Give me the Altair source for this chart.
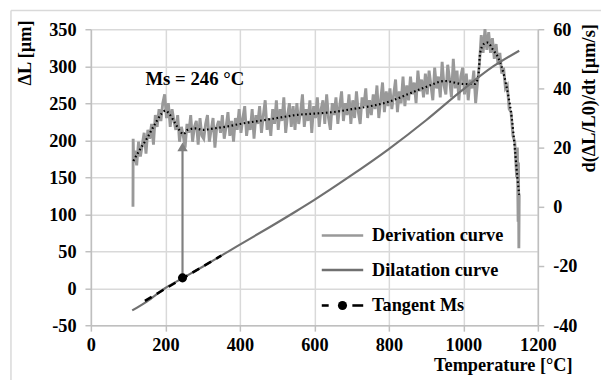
import altair as alt
import pandas as pd

FONT = "Liberation Serif"

# ---------------- data ----------------
# Derivation curve (right axis, µm/s), noisy raw signal
deriv_start_t = [113, 113.5, 115]
deriv_start_v = [0, 23, 15]
seg_a_start = 118   # step 5
seg_a = [19, 14, 22, 17, 21, 25, 18, 26, 23, 28, 21, 31, 27, 33, 29, 35, 38]
seg_b_start = 203   # step 5
seg_b = [30, 35, 27, 33, 29, 26, 31, 22, 27, 24,
         20, 28, 25, 31, 22, 27, 29, 21, 30, 24,
         23, 28, 31, 22, 26, 30, 20, 27, 29, 25,
         31, 23, 27, 32, 24, 29, 22, 30, 26, 33,
         25, 30, 34, 24, 29, 26, 33, 23, 31, 28,
         34, 25, 31, 36, 26, 30, 24, 33, 28, 36,
         26, 33, 29, 37, 25, 31, 35, 27, 34, 26,
         35, 28, 32, 38, 27, 33, 29, 36, 25, 34,
         30, 37, 27, 33, 36, 28, 38, 30, 26, 35,
         31, 37, 28, 34, 39, 29, 35, 31, 38, 28,
         36, 30, 39, 32, 28, 37, 34, 40, 30, 36,
         31, 38, 33, 41, 30, 36, 42, 32, 39, 34,
         40, 33, 38, 43, 32, 39, 35, 44, 34, 41,
         36, 44, 38, 42, 35, 46, 39, 43, 37, 45,
         38, 46, 41, 36, 47, 40, 44, 37, 49, 41,
         38, 48, 43, 37, 50, 40, 46, 36, 44, 47,
         38, 45, 36, 43, 40, 46, 35, 42]
seg_c_start = 1043  # step 5
seg_c = [48, 58, 52, 60, 53, 59, 52, 57, 50, 55, 48, 52, 45, 47, 40, 41, 33, 32, 24, 22, 10]
deriv_end_t = [1145, 1147, 1148, 1149, 1150]
deriv_end_v = [20, -5, 15, -14, 4]

# Derivation curve, smoothed (dotted black)
smooth_t = [114, 130, 150, 170, 190, 200, 210, 225, 240, 248, 260, 280, 300, 330, 360,
            400, 450, 500, 550, 600, 650, 700, 750, 800, 850, 900, 950, 1000, 1030,
            1040, 1045, 1055, 1065, 1080, 1095, 1110, 1120, 1130, 1138, 1145, 1150]
smooth_v = [15.5, 19, 23, 27.5, 31.5, 32.5, 31.5, 28.5, 25.5, 24.5, 26, 26.5, 26, 26.5, 27,
            28, 29, 30, 31, 31.5, 32, 33, 34, 35.5, 38, 40.5, 42.5, 41.5, 41.5,
            44, 52, 55, 55.5, 53, 50, 44, 38, 30, 20, 10, 4]

# Dilatation curve (left axis, µm)
dil_t = [111, 150, 199, 244, 300, 400, 475, 551, 599, 692, 797, 900, 993, 1081, 1150]
dil_v = [-30, -18, 0, 13, 29, 59, 81, 104, 119, 150, 187, 227, 266, 300, 321]

# Tangent at Ms
tan_t = [145, 350]
tan_v = [-17, 44]
ms_t = [246]
ms_v = [14]
arrow_top = [188]
arrow_head = [191]
ms_label = "Ms = 246 °C"
ms_label_pos = (279, 283)

x_ticks = [0, 200, 400, 600, 800, 1000, 1200]
left_ticks = [-50, 0, 50, 100, 150, 200, 250, 300, 350]
right_ticks = [-40, -20, 0, 20, 40, 60]

# ---------------- build frames ----------------
d_t, d_v = list(deriv_start_t), list(deriv_start_v)
for start, seg in [(seg_a_start, seg_a), (seg_b_start, seg_b), (seg_c_start, seg_c)]:
    d_t += [start + 5 * i for i in range(len(seg))]
    d_v += seg
d_t += deriv_end_t
d_v += deriv_end_v
deriv_df = pd.DataFrame({"t": d_t, "v": d_v})
smooth_df = pd.DataFrame({"t": smooth_t, "v": smooth_v})
dil_df = pd.DataFrame({"t": dil_t, "v": dil_v})
tan_df = pd.DataFrame({"t": tan_t, "v": tan_v})
ms_df = pd.DataFrame({"t": ms_t, "v": ms_v, "v2": arrow_top, "h": arrow_head})
lab_df = pd.DataFrame({"t": [ms_label_pos[0]], "v": [ms_label_pos[1]], "s": [ms_label]})
one = alt.Data(values=[{"a": 1}])

GRID = "#d9d9d9"
AX = "#bfbfbf"
LBL = "toString(datum.value)"

x_scale = alt.Scale(domain=[0, 1200], nice=False, zero=False)
x_axis = alt.Axis(values=x_ticks, grid=True, gridColor=GRID, gridWidth=1.5,
                  domainColor=AX, domainWidth=1.5, tickColor=AX, tickWidth=1.5, tickSize=6,
                  labelFont=FONT, labelFontWeight="bold", labelFontSize=18.5, labelColor="black",
                  labelPadding=5, labelFlush=False, labelExpr=LBL, title=None)


def X():
    return alt.X("t:Q", scale=x_scale, axis=x_axis)


yl_scale = alt.Scale(domain=[-50, 350], nice=False, zero=False)
yl_axis = alt.Axis(orient="left", values=left_ticks, grid=True, gridColor=GRID, gridWidth=1.5,
                   domainColor=AX, domainWidth=1.5, tickColor=AX, tickWidth=1.5, tickSize=6,
                   labelFont=FONT, labelFontWeight="bold", labelFontSize=18.5, labelColor="black",
                   labelPadding=9, labelExpr=LBL, title=None)
yr_scale = alt.Scale(domain=[-40, 60], nice=False, zero=False)
yr_axis = alt.Axis(orient="right", values=right_ticks, grid=False,
                   domainColor=AX, domainWidth=1.5, tickColor=AX, tickWidth=1.5, tickSize=6,
                   labelFont=FONT, labelFontWeight="bold", labelFontSize=18.5, labelColor="black",
                   labelPadding=9, labelExpr=LBL, title=None)


def YL(field="v"):
    return alt.Y(f"{field}:Q", scale=yl_scale, axis=yl_axis)


def YR():
    return alt.Y("v:Q", scale=yr_scale, axis=yr_axis)


# ---------------- right-axis layers ----------------
deriv_line = alt.Chart(deriv_df).mark_line(color="#999999", strokeWidth=2.9).encode(x=X(), y=YR())
smooth_line = alt.Chart(smooth_df).mark_line(color="black", strokeWidth=2.2, strokeDash=[1.6, 2.6],
                                             interpolate="monotone").encode(x=X(), y=YR())
right = alt.layer(deriv_line, smooth_line)

# ---------------- left-axis layers ----------------
dil_line = alt.Chart(dil_df).mark_line(color="#707070", strokeWidth=2.2,
                                       interpolate="monotone").encode(x=X(), y=YL())
tan_line = alt.Chart(tan_df).mark_line(color="black", strokeWidth=2.6,
                                       strokeDash=[8, 6]).encode(x=X(), y=YL())
arrow_rule = alt.Chart(ms_df).mark_rule(color="#808080", strokeWidth=2.2).encode(
    x=X(), y=YL(), y2="v2:Q")
arrow_tip = alt.Chart(ms_df).mark_point(shape="triangle-up", filled=True, size=110,
                                        color="#808080", opacity=1).encode(x=X(), y=YL("h"))
ms_dot = alt.Chart(ms_df).mark_point(shape="circle", filled=True, size=85,
                                     color="black", opacity=1).encode(x=X(), y=YL())
ms_text = alt.Chart(lab_df).mark_text(font=FONT, fontWeight="bold", fontSize=19, color="black",
                                      align="center", baseline="middle").encode(
    x=X(), y=YL(), text="s:N")


def txt(s, x, y, angle=0, align="left", size=18.5):
    kw = dict(text=s, font=FONT, fontWeight="bold", fontSize=size, color="black",
              align=align, baseline="middle")
    if angle:
        kw["angle"] = angle
    return alt.Chart(one).mark_text(**kw).encode(x=alt.value(x), y=alt.value(y))


def hline(x1, x2, y, color, width=2.2):
    return alt.Chart(one).mark_rule(color=color, strokeWidth=width).encode(
        x=alt.value(x1), x2=alt.value(x2), y=alt.value(y))


# legend (inside plot, bottom-right)
leg = [
    hline(234, 276, 209, "#999999", 2.6),
    txt("Derivation curve", 285, 209),
    hline(234, 276, 244, "#707070", 2.6),
    txt("Dilatation curve", 285, 244),
    hline(234, 241, 280, "black", 2.6),
    hline(265, 276, 280, "black", 2.6),
    alt.Chart(one).mark_point(shape="circle", filled=True, size=85, color="black", opacity=1).encode(
        x=alt.value(255), y=alt.value(280)),
    txt("Tangent Ms", 285, 280),
]

titles = [
    txt("ΔL [µm]", -67, 24, angle=270, align="center"),
    txt("d(ΔL/L0)/dt [µm/s]", 505, 70, angle=270, align="center"),
    txt("Temperature [°C]", 418, 340, align="center"),
]

border = [
    alt.Chart(one).mark_rule(color=GRID, strokeWidth=1.5).encode(
        x=alt.value(-81), x2=alt.value(530), y=alt.value(-19)),
    alt.Chart(one).mark_rule(color=GRID, strokeWidth=1.5).encode(
        x=alt.value(-81), y=alt.value(-19), y2=alt.value(360)),
]

left = alt.layer(dil_line, tan_line, arrow_rule, arrow_tip, ms_dot, ms_text, *leg, *titles, *border)

chart = alt.layer(right, left).resolve_scale(y="independent").properties(
    width=453, height=300,
    autosize=alt.AutoSizeParams(type="none"),
    padding={"left": 84, "top": 19, "right": 64, "bottom": 53},
).configure_view(stroke=None)

chart.save("out.html", embed_options={"renderer": "svg", "actions": False})
